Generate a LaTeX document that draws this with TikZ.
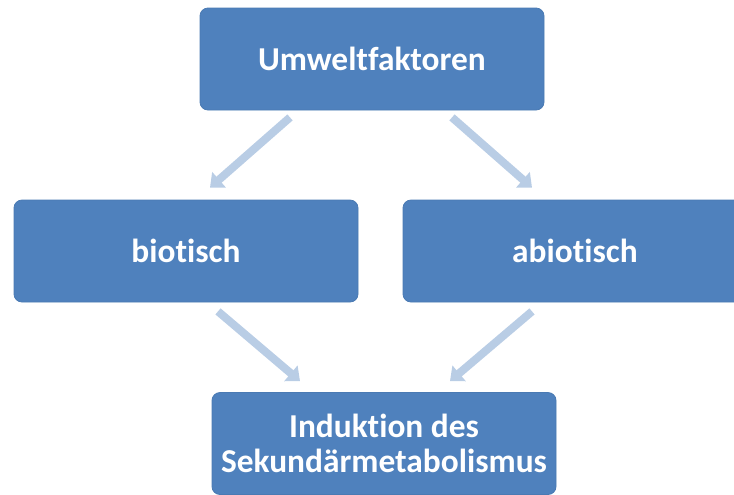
\documentclass[tikz,border=0pt]{standalone}
\usepackage{fontspec}
\setmainfont[Ligatures=NoCommon]{Carlito}
\usetikzlibrary{arrows.meta,positioning,calc}
\definecolor{boxblue}{HTML}{4F81BD}
\definecolor{boxline}{HTML}{4A7AB3}
\definecolor{arrblue}{HTML}{B9CDE5}
\begin{document}
\begin{tikzpicture}[x=0.5pt, y=-0.5pt,
        box/.style={draw=boxline, fill=boxblue, rounded corners=4pt, minimum width=172pt, minimum height=51pt, align=center, text=white, font=\fontsize{16.7}{17.5}\selectfont\bfseries},
        arr/.style={-{Triangle[width=10pt,length=6pt]}, line width=4pt, draw=arrblue}
    ]
    \useasboundingbox (0,0) rectangle (734,494);
    \node[box] (umwelt) at (372, 59) {Umweltfaktoren};
    \node[box] (bio) at (186, 251) {biotisch};
    \node[box] (abio) at (575, 251) {abiotisch};
    \node[box] (induktion) at (384, 443.5) {Induktion des\\Sekundärmetabolismus};
    \draw[arr] ([shift={(-82,7)}]umwelt.south) -- ([shift={(24,-12)}]bio.north);
    \draw[arr] ([shift={(80,7)}]umwelt.south) -- ([shift={(-43,-12)}]abio.north);
    \draw[arr] ([shift={(32,9)}]bio.south) -- ([shift={(-84,-11)}]induktion.north);
    \draw[arr] ([shift={(-43,9)}]abio.south) -- ([shift={(66,-11)}]induktion.north);
\end{tikzpicture}
\end{document}
